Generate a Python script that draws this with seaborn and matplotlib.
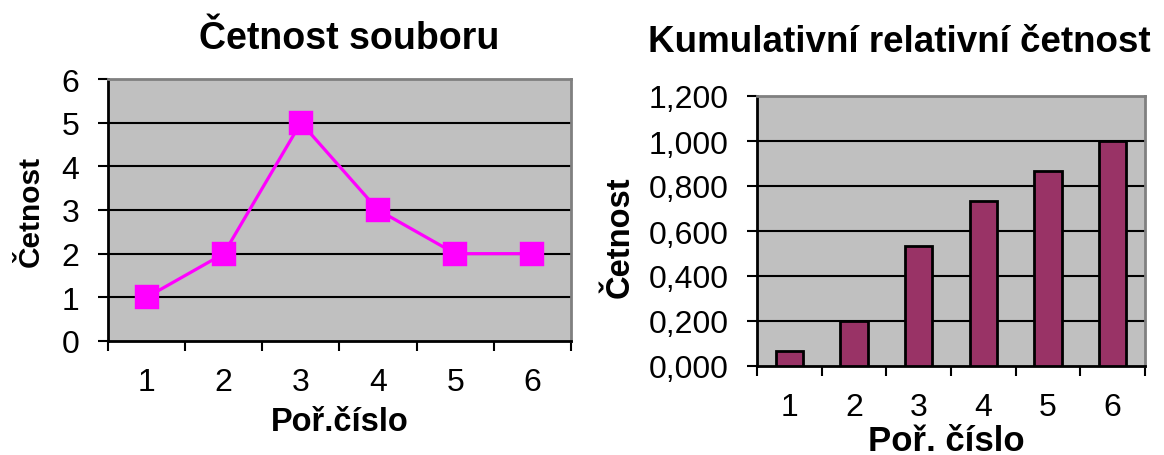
import numpy as np
import matplotlib
matplotlib.use("Agg")
import matplotlib.pyplot as plt
from matplotlib.ticker import FixedLocator, FuncFormatter
import seaborn as sns

# Data
categories = ["1", "2", "3", "4", "5", "6"]
counts = [1, 2, 5, 3, 2, 2]
cum_rel = [0.067, 0.200, 0.533, 0.733, 0.867, 1.000]
count_ticks = [0, 1, 2, 3, 4, 5, 6]
cum_ticks = [0.0, 0.2, 0.4, 0.6, 0.8, 1.0, 1.2]

sns.set_theme(style="white")
plt.rcParams["font.family"] = ["Liberation Sans", "DejaVu Sans"]

BG = "#C0C0C0"
GRID = "#000000"
FRAME_GRAY = "#808080"

fig = plt.figure(figsize=(11.64, 4.56), dpi=100)
fig.patch.set_facecolor("white")

ax1 = fig.add_axes([108 / 1164, 1 - 342 / 456, 463 / 1164, 262 / 456])
ax2 = fig.add_axes([757 / 1164, 1 - 367 / 456, 388 / 1164, 270 / 456])


def style_axes(ax, yticks, ymax):
    ax.set_facecolor(BG)
    ax.set_xlim(-0.5, 5.5)
    ax.set_ylim(0, ymax)
    ax.set_yticks(yticks)
    for y in yticks[1:-1]:
        ax.axhline(y, color=GRID, lw=1.5, zorder=0.5)
    ax.spines["left"].set_color("black")
    ax.spines["bottom"].set_color("black")
    ax.spines["top"].set_color(FRAME_GRAY)
    ax.spines["right"].set_color(FRAME_GRAY)
    for s in ax.spines.values():
        s.set_linewidth(2)
        s.set_visible(True)
    ax.xaxis.set_minor_locator(FixedLocator(np.arange(-0.5, 6.0, 1.0)))
    ax.tick_params(axis="x", which="major", length=0, pad=19, labelsize=23, labelcolor="black")
    ax.tick_params(axis="x", which="minor", length=7.5, width=1.5, color="black", direction="out", bottom=True)
    ax.tick_params(axis="y", which="major", length=7.5, width=1.5, color="black", direction="out",
                   left=True, pad=13, labelsize=23, labelcolor="black")


# Left: frequency line chart
sns.pointplot(x=categories, y=counts, ax=ax1, color="#FF00FF", markers="s",
              markersize=16, linewidth=2.3, errorbar=None, zorder=3)
style_axes(ax1, count_ticks, 6)
ax1.set_xlabel("Poř.číslo", fontsize=23.5, fontweight="bold", color="black")
ax1.set_ylabel("Četnost", fontsize=21.5, fontweight="bold", color="black")
ax1.xaxis.set_label_coords(0.50, -0.25)
ax1.yaxis.set_label_coords(-0.136, 0.50)
fig.text(349 / 1164, 1 - 39 / 456, "Četnost souboru", ha="center", va="center",
         fontsize=27, fontweight="bold", color="black")

# Right: cumulative relative frequency bar chart
sns.barplot(x=categories, y=cum_rel, ax=ax2, color="#993366", saturation=1,
            edgecolor="black", linewidth=2, width=0.42, errorbar=None, zorder=3)
style_axes(ax2, cum_ticks, 1.2)
ax2.yaxis.set_major_formatter(FuncFormatter(lambda v, p: f"{v:.3f}".replace(".", ",")))
ax2.set_xlabel("Poř. číslo", fontsize=25, fontweight="bold", color="black")
ax2.set_ylabel("Četnost", fontsize=23.5, fontweight="bold", color="black")
ax2.xaxis.set_label_coords(0.487, -0.215)
ax2.yaxis.set_label_coords(-0.314, 0.48)
fig.text(899 / 1164, 1 - 42 / 456, "Kumulativní relativní četnost", ha="center", va="center",
         fontsize=26.5, fontweight="bold", color="black")

fig.savefig("out.png", dpi=100, facecolor="white")
